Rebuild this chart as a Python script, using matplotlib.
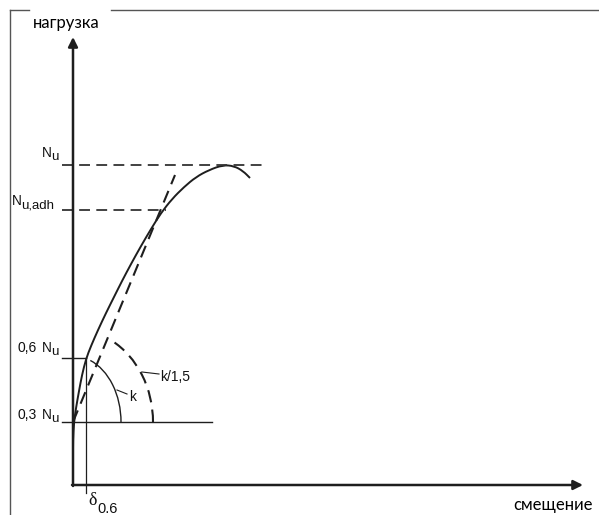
import matplotlib
matplotlib.use("Agg")
from matplotlib import pyplot as plt
from matplotlib.patches import Arc, PathPatch
from matplotlib.path import Path
import numpy as np

# schematic load-displacement curve (arbitrary units, origin at the axes corner)
curve_x = [0, 0, 0, 1, 3, 6, 9, 13, 18, 25, 33, 41, 49, 58, 68, 78, 88, 99, 111, 123, 136, 150, 161, 170, 177]
curve_y = [0, 25, 45, 63, 77, 94, 110, 126, 139, 155, 172, 188, 204, 221, 239, 256, 272, 286, 298, 308, 315, 320, 319, 314, 307]

# characteristic load levels
n_u = 320
n_u_adh = 275
n_06 = 127
n_03 = 63
delta_06 = 13

# secant through 0,3 Nu (stiffness k/1,5)
secant_x = [0, 102]
secant_y = [n_03, 310]

# arc radii for the stiffness markers (x, y)
arc_k = (48, 66)
arc_k15 = (80, 93)

dark = '#1e1e1e'
dash = (0, (6, 3.5))


def smooth_path(xs, ys):
    # quadratic bezier through the midpoints, points act as control points
    pts = np.column_stack([xs, ys]).astype(float)
    verts = [pts[0]]
    codes = [Path.MOVETO]
    for i in range(1, len(pts) - 1):
        mid = (pts[i] + pts[i + 1]) / 2
        verts += [pts[i], mid]
        codes += [Path.CURVE3, Path.CURVE3]
    verts.append(pts[-1])
    codes.append(Path.LINETO)
    return Path(verts, codes)


def sub_label(ax, x, y, main, sub, prefix=None, px=None):
    # label like "N" with lowered subscript of nearly the same size
    f = dict(family='Liberation Sans', color='#111111', va='baseline', ha='left')
    if prefix is not None:
        ax.text(px, y, prefix, fontsize=10, **f)
    ax.text(x, y, main, fontsize=9.8, **f)
    ax.text(x + 9, y - 3, sub, fontsize=9.5, **f)


fig = plt.figure(figsize=(5.99, 5.15), dpi=100)
ax = fig.add_axes([0, 0, 1, 1])
ax.set_xlim(-73, 526)
ax.set_ylim(-30, 485)
ax.axis('off')

# outer frame (top edge broken for the axis label)
ax.plot([-63, -63], [-30, 475], color='#555555', lw=1.0)
ax.plot([-63, -44], [475, 475], color='#555555', lw=1.0)
ax.plot([38, 526], [475, 475], color='#555555', lw=1.0)

# axes with arrows
ax.annotate('', xy=(0, 448), xytext=(0, -1),
            arrowprops=dict(arrowstyle='-|>', color=dark, lw=1.8,
                            mutation_scale=14, shrinkA=0, shrinkB=0))
ax.annotate('', xy=(510, 0), xytext=(-1, 0),
            arrowprops=dict(arrowstyle='-|>', color=dark, lw=1.8,
                            mutation_scale=14, shrinkA=0, shrinkB=0))

# dashed load levels
ax.plot([-11, 189], [n_u, n_u], color='#333333', lw=1.3, ls=dash)
ax.plot([-11, 93], [n_u_adh, n_u_adh], color='#333333', lw=1.3, ls=dash)

# solid reference lines
ax.plot([-11, delta_06], [n_06, n_06], color=dark, lw=1.0)
ax.plot([-11, 139], [n_03, n_03], color=dark, lw=1.0)
ax.plot([delta_06, delta_06], [n_06, -8], color=dark, lw=0.9)

# curve and secant
ax.add_patch(PathPatch(smooth_path(curve_x, curve_y), fill=False,
                       edgecolor=dark, lw=1.4))
ax.plot(secant_x, secant_y, color=dark, lw=1.5, ls=dash)

# stiffness arcs
t_k = np.degrees(np.arccos(delta_06 / arc_k[0]))
ax.add_patch(Arc((0, n_03), 2 * arc_k[0], 2 * arc_k[1], theta1=0, theta2=t_k,
                 color=dark, lw=1.0))
slope = (secant_y[1] - secant_y[0]) / (secant_x[1] - secant_x[0])
t_k15 = np.degrees(np.arctan(slope * arc_k15[0] / arc_k15[1]))
ax.add_patch(Arc((0, n_03), 2 * arc_k15[0], 2 * arc_k15[1], theta1=0, theta2=t_k15,
                 color=dark, lw=1.5, ls=dash))

# leader lines to arc labels
ax.plot([44, 54], [95, 91], color=dark, lw=0.8)
ax.plot([69, 86], [113, 111], color=dark, lw=0.8)

sub_label(ax, -31, n_u + 8, 'N', 'u')
sub_label(ax, -61, n_u_adh + 5, 'N', 'u,adh')
sub_label(ax, -31, n_06 + 6, 'N', 'u', prefix='0,6', px=-56)
sub_label(ax, -31, n_03 + 3, 'N', 'u', prefix='0,3', px=-56)

lab = dict(family='Liberation Sans', fontsize=10, color='#111111')
ax.text(56, 88, 'k', ha='left', va='center', **lab)
ax.text(87, 108, 'k/1,5', ha='left', va='center', **lab)
ax.text(15, -20, 'δ', ha='left', va='baseline', family='Liberation Serif',
        fontsize=13, color='#111111')
ax.text(24, -28, '0.6', ha='left', va='baseline', family='Liberation Sans',
        fontsize=10.5, color='#111111')

ax.text(-40, 457, 'нагрузка', ha='left', va='baseline', family='Lato',
        fontsize=12, color='black')
ax.text(520, -25, 'смещение', ha='right', va='baseline', family='Lato',
        fontsize=12, color='black')

fig.savefig('out.png', dpi=100, facecolor='white')
